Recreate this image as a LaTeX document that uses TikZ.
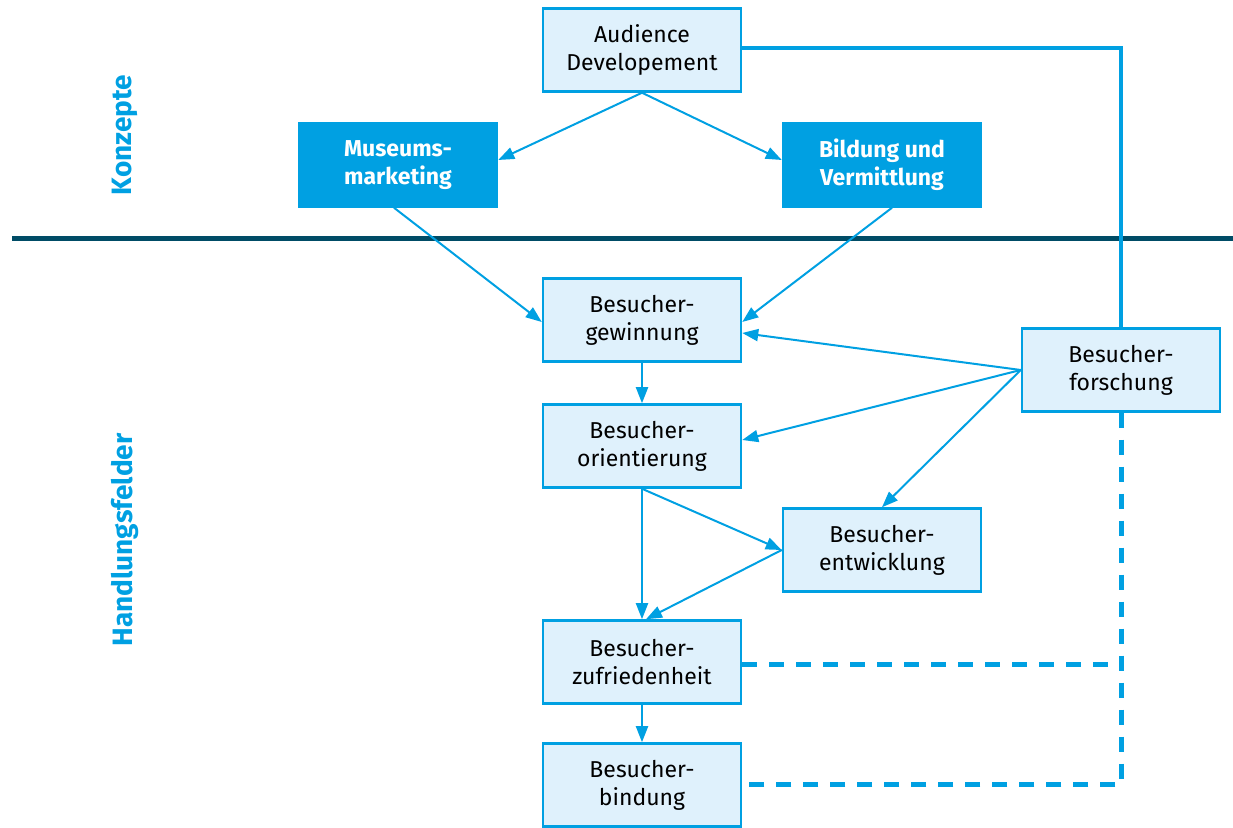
\documentclass[tikz,border=0pt]{standalone}
\usepackage{fontspec}
\setmainfont{Fira Sans}
\usetikzlibrary{arrows.meta}
\definecolor{hblau}{RGB}{0, 160, 226}
\definecolor{hell}{RGB}{223, 241, 252}
\definecolor{dunkel}{RGB}{0, 76, 102}
\tikzset{
  feld/.style={draw=hblau, line width=1.25pt, fill=hell, align=center,
    minimum width=99pt, minimum height=41.5pt, inner sep=2pt,
    font=\fontsize{11.5}{14}\selectfont, execute at begin node=\rule{0pt}{11pt}},
  konzept/.style={feld, fill=hblau, text=white, font=\fontsize{11.5}{14}\selectfont\bfseries},
  pfeil/.style={draw=hblau, line width=1pt, -{Triangle[length=8pt, width=6pt]}},
  titel/.style={text=hblau, rotate=90, font=\fontsize{14}{16}\selectfont\bfseries}
}
\begin{document}
\begin{tikzpicture}[x=0.5pt, y=-0.5pt]
\useasboundingbox (0,0) rectangle (1233,828);
% Konzepte
\node[feld] (aud) at (642,50) {Audience\\Developement};
\node[konzept] (mus) at (398,165) {Museums-\\marketing};
\node[konzept] (bil) at (882,165) {Bildung und\\Vermittlung};
\draw[dunkel, line width=2.5pt] (12,239) -- (1233,239); % Trennlinie
% Handlungsfelder
\foreach \Name/\Pos/\Text in {gew/{(642,320)}/{Besucher-\\gewinnung},
    ori/{(642,446)}/{Besucher-\\orientierung}, ent/{(882,550)}/{Besucher-\\entwicklung},
    zuf/{(642,662)}/{Besucher-\\zufriedenheit}, bin/{(642,785)}/{Besucher-\\bindung},
    for/{(1121,370)}/{Besucher-\\forschung}}{
  \node[feld] (\Name) at \Pos {\Text};}
\node[titel] (konz) at (125,135) {Konzepte};
\node[titel] (hand) at (125,540) {Handlungsfelder};
% Pfeile
\draw[pfeil] (aud.south) -- ([yshift=2.5pt]mus.east);
\draw[pfeil] (aud.south) -- ([yshift=2.5pt]bil.west);
\draw[pfeil] ([xshift=-2pt]mus.south) -- ([yshift=-1pt]gew.west);
\draw[pfeil] ([xshift=5pt]bil.south) -- ([yshift=-1pt]gew.east);
\draw[pfeil] (gew.south) -- (ori.north);
\draw[pfeil] (for.west) -- ([yshift=-6.5pt]gew.east);
\draw[pfeil] (for.west) -- ([yshift=3pt]ori.east);
\draw[pfeil] (for.west) -- (ent.north);
\draw[pfeil] (ori.south) -- (ent.west);
\draw[pfeil] (ori.south) -- (zuf.north);
\draw[pfeil] (ent.west) -- ([xshift=2pt]zuf.north);
\draw[pfeil] (zuf.south) -- (bin.north);
\draw[hblau, line width=2pt] ([yshift=1pt]aud.east) -| (for.north);
\draw[hblau, line width=2.5pt, dash pattern=on 7.5pt off 6pt] (for.south) |- (bin.east);
\draw[hblau, line width=2.5pt, dash pattern=on 7.5pt off 6pt] ([yshift=-1.5pt]zuf.east) -- ([yshift=-1.5pt]zuf.east -| for.south);
\end{tikzpicture}
\end{document}
